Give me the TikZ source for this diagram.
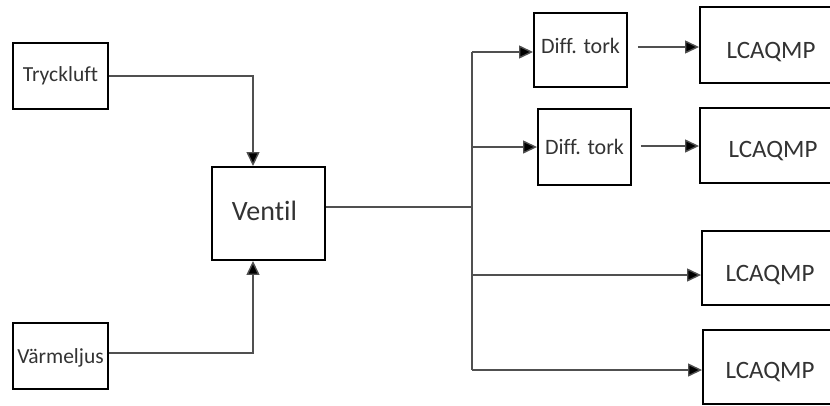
\documentclass[tikz,border=0pt]{standalone}
\usepackage{fontspec}
\setmainfont{Carlito}[Ligatures=NoCommon]
\usetikzlibrary{arrows.meta}

\definecolor{inktext}{HTML}{333333}
\definecolor{wire}{HTML}{505050}

\tikzset{
  blockbox/.style={draw=black, line width=1.9pt, rectangle, inner sep=0pt,
    text=inktext, align=center},
  srcbox/.style={blockbox, minimum width=95pt, minimum height=66pt, font=\fontsize{21.5}{24}\selectfont},
  dryerbox/.style={blockbox, minimum width=93pt, minimum height=75pt, font=\fontsize{22}{26}\selectfont},
  unitbox/.style={blockbox, minimum height=75pt, font=\fontsize{25}{30}\selectfont},
  wireline/.style={draw=wire, line width=1.4pt},
  flow/.style={wireline, -{Triangle[length=14pt, width=13pt, fill=black]}},
}

\begin{document}
\begin{tikzpicture}[x=1pt, y=-1pt]
  \useasboundingbox (0,0) rectangle (830,405);
  \clip (0,0) rectangle (830,405);

  % sources and valve
  \node[srcbox, text height=13.8pt, text depth=2pt] (tryck) at (60.5,76) {Tryckluft};
  \node[srcbox, text height=14.8pt, text depth=0pt] (varme) at (60.5,356) {Värmeljus};
  \node[blockbox, minimum width=113pt, minimum height=93pt,
        font=\fontsize{28}{32}\selectfont, text height=18pt, text depth=5pt]
        (ventil) at (268.5,213.5) {\hspace*{-8pt}Ventil};

  % dryers
  \node[dryerbox, minimum height=74pt, text height=14.1pt, text depth=7pt] (diff1) at (580.5,50) {Diff. tork};
  \node[dryerbox, minimum height=76pt, text height=15.1pt, text depth=0pt] (diff2) at (584.5,147) {Diff. tork};

  % measuring units (run past the right edge)
  \node[unitbox, minimum width=142pt, minimum height=76pt, text height=26pt, text depth=0pt] (lca1) at (771,45) {LCAQMP};
  \node[unitbox, minimum width=146pt, text height=23pt, text depth=0pt] (lca2) at (773,145.5) {LCAQMP};
  \node[unitbox, minimum width=136pt, minimum height=74pt, text height=26pt, text depth=0pt] (lca3) at (770,268) {LCAQMP};
  \node[unitbox, minimum width=134pt, minimum height=74pt, text height=23pt, text depth=0pt] (lca4) at (770,367) {LCAQMP};

  % inputs to the valve
  \coordinate (vin) at (253,0);
  \draw[flow] (tryck.east) -| (vin |- ventil.north);
  \draw[flow] ([yshift=3pt]varme.east) -| (vin |- ventil.south);

  % distribution trunk
  \coordinate (ttop) at (472,52);
  \coordinate (tbot) at (472,370);
  \coordinate (tmid) at (472,207);
  \coordinate (t2) at (472,147);
  \coordinate (t3) at (472,275);
  \draw[wireline] (ttop) -- (tbot);
  \draw[wireline] (tmid -| ventil.east) -- (tmid);

  % branches
  \draw[flow] (ttop) -- (ttop -| diff1.west);
  \draw[flow] (t2) -- (t2 -| diff2.west);
  \draw[flow] (t3) -- (t3 -| lca3.west);
  \draw[flow] (tbot) -- (tbot -| lca4.west);

  % dryers to units
  \draw[flow, shorten <=10pt] ([yshift=3pt]diff1.east) -- ([yshift=3pt]diff1.east -| lca1.west);
  \draw[flow, shorten <=9pt] ([yshift=1pt]diff2.east) -- ([yshift=1pt]diff2.east -| lca2.west);
\end{tikzpicture}
\end{document}
